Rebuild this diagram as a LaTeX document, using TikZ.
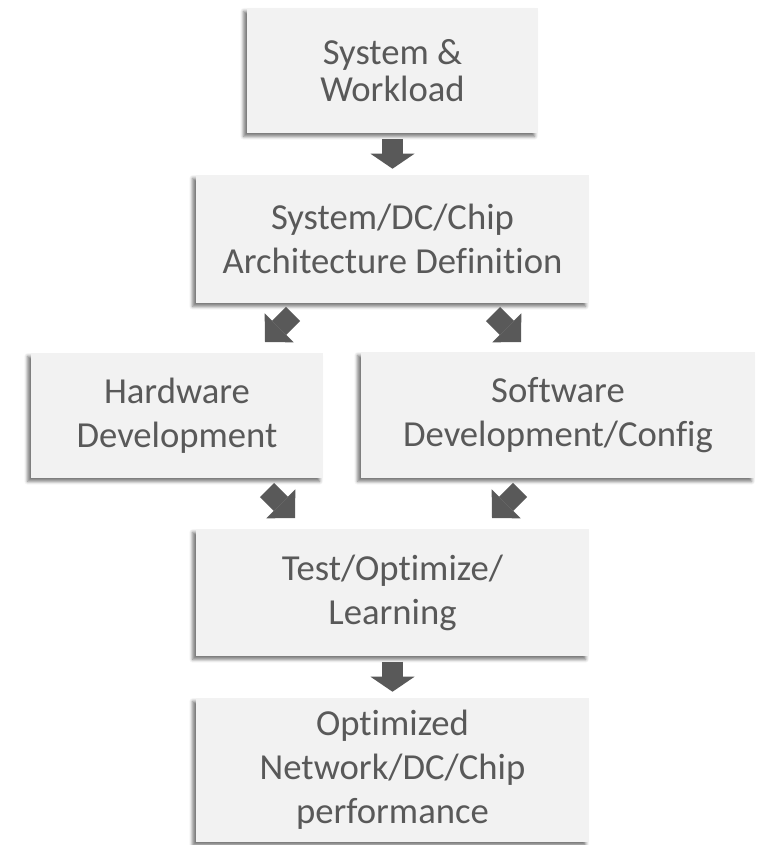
\documentclass[tikz,border=0pt]{standalone}
\usepackage{fontspec}
\setmainfont{Carlito}[Ligatures=CommonOff]
\usetikzlibrary{arrows.meta,shadows.blur}
\definecolor{boxfill}{HTML}{F2F2F2}
\definecolor{ink}{HTML}{595959}
\begin{document}
\begin{tikzpicture}[x=0.75pt,y=-0.75pt,
  box/.style={draw=none, fill=boxfill, text=ink, align=center, inner sep=0pt,
    font=\fontsize{27.5pt}{33pt}\selectfont,
    blur shadow={shadow xshift=-2.5pt, shadow yshift=-2.5pt,
      shadow blur radius=2.5pt, shadow opacity=55}},
  downarrow/.style={ink, line width=15.75pt,
    -{Triangle[width=33pt, length=11.25pt, line width=0pt]}},
  diagarrow/.style={ink, line width=15pt,
    -{Triangle[width=30.75pt, length=15pt, line width=0pt]}}]
\useasboundingbox (0,0) rectangle (769,845);

% process boxes
\node[box, minimum width=218.25pt, minimum height=93.75pt,
  font=\fontsize{27.5pt}{28pt}\selectfont] (sys) at (392.5,70.5)
  {\raisebox{-3pt}{\parbox{200pt}{\centering System \&\\Workload}}};
\node[box, minimum width=294.75pt, minimum height=96pt] (arch) at (392.5,239)
  {System/DC/Chip\\Architecture Definition};
\node[box, minimum width=219pt, minimum height=93.75pt] (hw) at (177,415.5)
  {Hardware\\Development};
\node[box, minimum width=295.5pt, minimum height=94.5pt] (sw) at (558,415)
  {Software\\Development/Config};
\node[box, minimum width=294.75pt, minimum height=95.25pt] (test) at (392.5,592.5)
  {Test/Optimize/\\Learning};
\node[box, minimum width=294.75pt, minimum height=108pt] (opt) at (392.5,770)
  {\raisebox{-2pt}{\parbox{280pt}{\centering Optimized\\Network/DC/Chip\\performance}}};

% end points of the slanted arrows
\coordinate (archL) at (293,314);
\coordinate (hwIn)  at (265,342);
\coordinate (archR) at (493,314);
\coordinate (swIn)  at (521,342);
\coordinate (hwOut) at (267,490);
\coordinate (testL) at (295,518);
\coordinate (swOut) at (520,490);
\coordinate (testR) at (492,518);

% block arrows
\draw[downarrow, shorten <=4.5pt, shorten >=4.5pt] (sys.south) -- (arch.north);
\draw[diagarrow] (archL) -- (hwIn);
\draw[diagarrow] (archR) -- (swIn);
\draw[diagarrow] (hwOut) -- (testL);
\draw[diagarrow] (swOut) -- (testR);
\draw[downarrow, shorten <=4pt, shorten >=4.5pt] (test.south) -- (opt.north);
\end{tikzpicture}
\end{document}
